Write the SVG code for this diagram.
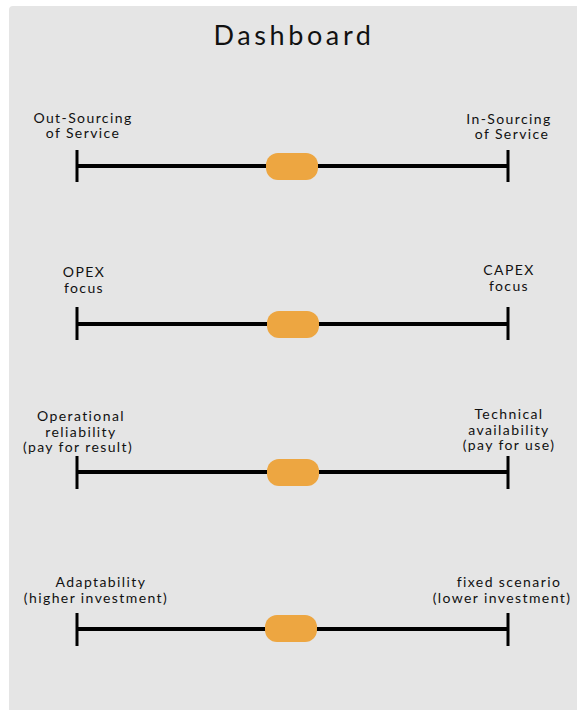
<svg xmlns="http://www.w3.org/2000/svg" width="577" height="710" viewBox="0 0 577 710">
  <style>
    .panel { fill: #e5e5e5; }
    .title { font-family: "Lato", "DejaVu Sans", sans-serif; font-size: 27px; fill: #111; text-anchor: middle; letter-spacing: 3.6px; }
    .label { font-family: "Lato", "DejaVu Sans", sans-serif; font-size: 14px; fill: #111; text-anchor: middle; letter-spacing: 1.4px; }
    .bar { stroke: #000; stroke-width: 4; fill: none; }
    .tick { stroke: #000; stroke-width: 3; fill: none; }
    .knob { fill: #eda641; }
  </style>
  <rect x="0" y="0" width="577" height="710" fill="#ffffff"/>
  <rect class="panel" x="9" y="6" width="580" height="720" rx="4"/>
  <text class="title" x="294" y="45">Dashboard</text>

  <g id="slider-sourcing">
    <text class="label" x="83" y="123">Out-Sourcing</text>
    <text class="label" x="83" y="138">of Service</text>
    <text class="label" x="509" y="124">In-Sourcing</text>
    <text class="label" x="512" y="139">of Service</text>
    <line class="bar" x1="77" y1="166" x2="508" y2="166"/>
    <line class="tick" x1="77" y1="150" x2="77" y2="182"/>
    <line class="tick" x1="508" y1="150" x2="508" y2="182"/>
    <rect class="knob" x="266" y="153" width="52" height="27" rx="12"/>
  </g>

  <g id="slider-expense">
    <text class="label" x="84" y="277">OPEX</text>
    <text class="label" x="84" y="293">focus</text>
    <text class="label" x="509" y="275">CAPEX</text>
    <text class="label" x="509" y="291">focus</text>
    <line class="bar" x1="77" y1="324" x2="508" y2="324"/>
    <line class="tick" x1="77" y1="307" x2="77" y2="340"/>
    <line class="tick" x1="508" y1="307" x2="508" y2="340"/>
    <rect class="knob" x="267" y="311" width="52" height="27" rx="12"/>
  </g>

  <g id="slider-payment">
    <text class="label" x="81" y="421">Operational</text>
    <text class="label" x="81" y="437">reliability</text>
    <text class="label" x="78" y="452">(pay for result)</text>
    <text class="label" x="509" y="419">Technical</text>
    <text class="label" x="509" y="435">availability</text>
    <text class="label" x="509" y="450">(pay for use)</text>
    <line class="bar" x1="77" y1="472" x2="508" y2="472"/>
    <line class="tick" x1="77" y1="456" x2="77" y2="489"/>
    <line class="tick" x1="508" y1="456" x2="508" y2="489"/>
    <rect class="knob" x="267" y="459" width="52" height="27" rx="12"/>
  </g>

  <g id="slider-investment">
    <text class="label" x="101" y="587">Adaptability</text>
    <text class="label" x="96" y="603">(higher investment)</text>
    <text class="label" x="509" y="587">fixed scenario</text>
    <text class="label" x="502" y="603">(lower investment)</text>
    <line class="bar" x1="77" y1="629" x2="508" y2="629"/>
    <line class="tick" x1="77" y1="613" x2="77" y2="646"/>
    <line class="tick" x1="508" y1="613" x2="508" y2="646"/>
    <rect class="knob" x="265" y="615" width="52" height="27" rx="12"/>
  </g>
</svg>
